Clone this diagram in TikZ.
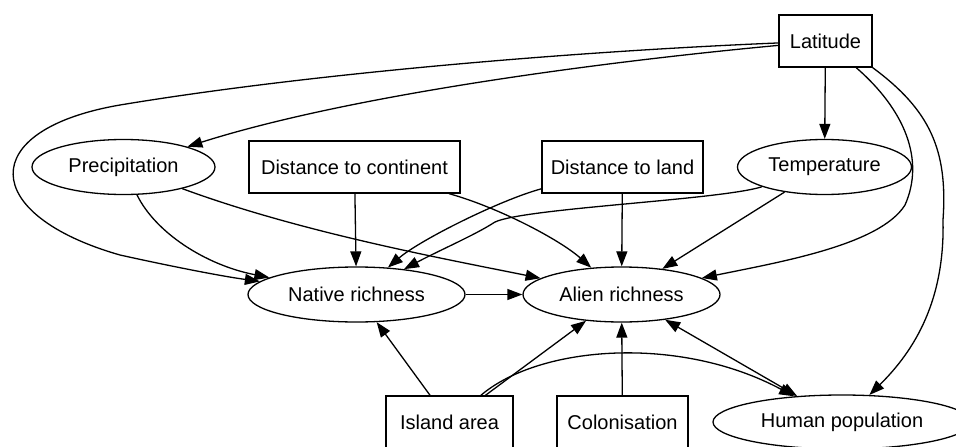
\documentclass[tikz,border=0pt]{standalone}
\usepackage{fontspec}
\setmainfont{Liberation Sans}
\usetikzlibrary{shapes.geometric,arrows.meta}
\begin{document}
\begin{tikzpicture}[x=1pt,y=-1pt,
  every node/.style={font=\fontsize{20}{24}\selectfont, inner sep=0pt, line width=1.3pt, draw},
  box/.style={rectangle, minimum height=52pt},
  oval/.style={ellipse, minimum height=55pt},
  tip/.tip={Triangle[length=15pt,width=11pt]},
  link/.style={line width=1.3pt, -tip},
  both/.style={line width=1.3pt, tip-tip},
]
\useasboundingbox (0,0) rectangle (956,447);

% variables
\node[box, minimum width=93pt]  (lat)   at (825.5,41)   {Latitude};
\node[oval, minimum width=174pt] (temp) at (824.5,167)  {Temperature};
\node[oval, minimum width=183pt] (prec) at (123.5,167)  {Precipitation};
\node[box, minimum width=211pt] (dcont) at (354.5,167)  {Distance to continent};
\node[box, minimum width=161pt] (dland) at (622.5,167)  {Distance to land};
\node[oval, minimum width=217pt] (nat)  at (356.5,294.5) {Native richness};
\node[oval, minimum width=197pt] (alien) at (621.5,294.5) {Alien richness};
\node[box, minimum width=127pt] (isl)   at (449.5,422)  {Island area};
\node[box, minimum width=131pt] (col)   at (622.5,422)  {Colonisation};
\node[oval, minimum width=258pt, minimum height=54pt] (hum) at (842,422) {Human population};

% effects of latitude
\draw[link] (lat) -- (temp);
\draw[link] (lat) .. controls (600,62) and (350,95) .. (prec);
\draw[link] (lat) .. controls (560,52) and (300,75) .. (120,105)
  .. controls (-25,130) and (-20,215) .. (120,255)
  .. controls (165,265) and (220,276) .. (nat);
\draw[link] (lat) .. controls (905,110) and (925,160) .. (905,205)
  .. controls (880,245) and (780,262) .. (alien);
\draw[link] (lat.south east) .. controls (930,110) and (948,150) .. (943,220)
  .. controls (945,300) and (915,350) .. (hum);

% climate
\draw[link] (prec) .. controls (155,232) and (205,265) .. (nat);
\draw[link] (prec) .. controls (300,232) and (440,258) .. (alien);
\draw[link] (temp) .. controls (720,200) and (525,208) .. (495,222)
  .. controls (475,235) and (440,250) .. (nat);
\draw[link] (temp) -- (alien);

% isolation
\draw[link] (dcont) -- (nat);
\draw[link] (dcont) .. controls (500,208) and (560,240) .. (alien);
\draw[link] (dland) .. controls (500,200) and (420,240) .. (nat);
\draw[link] (dland) -- (alien);

% richness and bottom row
\draw[link] (nat) -- (alien);
\draw[link] (isl) -- (nat);
\draw[link] (isl) -- (alien);
\draw[link] (isl) .. controls (540,345) and (680,335) .. (hum);
\draw[link] (col) -- (alien);
\draw[both] (alien) -- (hum);
\end{tikzpicture}
\end{document}
